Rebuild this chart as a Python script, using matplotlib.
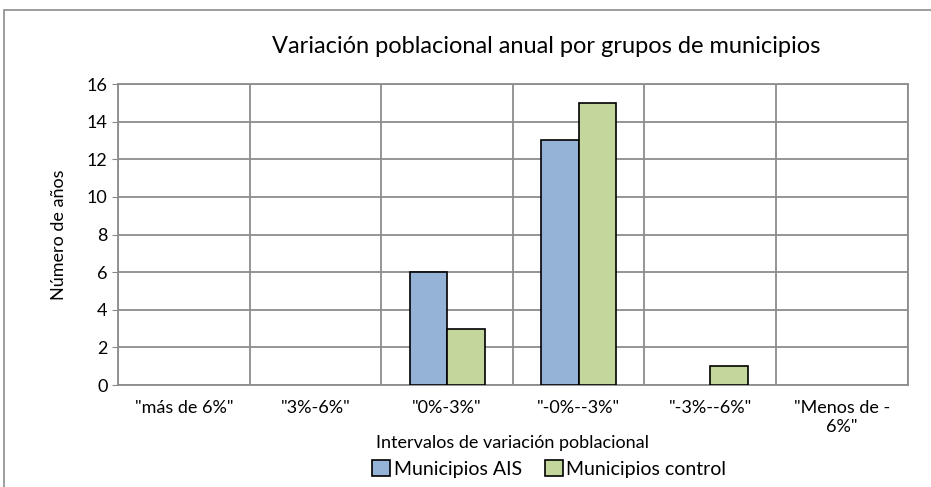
import matplotlib
matplotlib.use('Agg')
import matplotlib.pyplot as plt
import numpy as np
from matplotlib.patches import Rectangle

categories = ['"más de 6%"', '"3%-6%"', '"0%-3%"', '"-0%--3%"', '"-3%--6%"', '"Menos de -\n6%"']
ais = [0, 0, 6, 13, 0, 0]
control = [0, 0, 3, 15, 1, 0]

plt.rcParams['font.family'] = ['Lato', 'DejaVu Sans']

fig = plt.figure(figsize=(9.31, 4.87), dpi=100)
ax = fig.add_axes([0.1267, 0.2094, 0.8483, 0.6181])

# outer chart frame
fig.patches.append(Rectangle((4 / 931, -0.1), 1.2, 1 - 10 / 487 + 0.1,
                             transform=fig.transFigure, fill=False,
                             edgecolor='#8c8c8c', linewidth=1.2))

x = np.arange(len(categories))
w = 0.285
# zero-height bars are not drawn in the original
ais_m = np.where(np.array(ais) > 0, ais, np.nan)
ctl_m = np.where(np.array(control) > 0, control, np.nan)
ax.bar(x - w / 2, ais_m, w, color='#95b3d7', edgecolor='black', linewidth=1.2,
       label='Municipios AIS', zorder=3)
ax.bar(x + w / 2, ctl_m, w, color='#c3d69b', edgecolor='black', linewidth=1.2,
       label='Municipios control', zorder=3)

ax.set_xlim(-0.5, len(categories) - 0.5)
ax.set_ylim(0, 16)
ax.set_yticks(range(0, 17, 2))
ax.set_xticks(x)
ax.set_xticklabels(categories, fontsize=13)
ax.tick_params(axis='y', labelsize=13, length=4, color='#888888')
ax.tick_params(axis='x', length=0, pad=11)

ax.set_xticks(np.arange(-0.5, len(categories), 1), minor=True)
ax.tick_params(axis='x', which='minor', length=0)
ax.grid(True, which='major', axis='y', color='#8c8c8c', linewidth=1.3, zorder=0)
ax.grid(True, which='minor', axis='x', color='#8c8c8c', linewidth=1.3, zorder=0)
for s in ax.spines.values():
    s.set_color('#8c8c8c')
    s.set_linewidth(1.3)

ax.set_xlabel('Intervalos de variación poblacional', fontsize=13, labelpad=0)
ax.set_ylabel('Número de años', fontsize=13, labelpad=14)
fig.text(0.587, 0.905, 'Variación poblacional anual por grupos de municipios',
         ha='center', va='center', fontsize=17)

fig.legend(loc='center', bbox_to_anchor=(0.59, 0.037), ncol=2, frameon=False,
           fontsize=14, handlelength=0.9, handleheight=0.9, handletextpad=0.2,
           columnspacing=1.2, borderpad=0)

fig.savefig('out.png', dpi=100)
